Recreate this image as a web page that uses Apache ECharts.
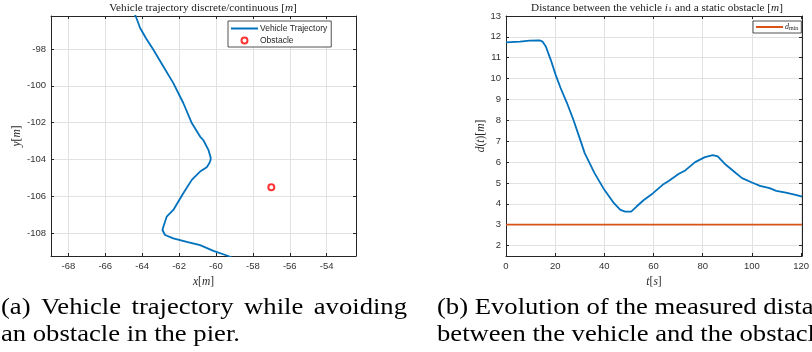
<!DOCTYPE html>
<html>
<head>
<meta charset="utf-8">
<script src="https://cdn.jsdelivr.net/npm/echarts@6/dist/echarts.min.js"></script>
<style>
  html, body { margin: 0; padding: 0; background: #fff; }
  #chart { width: 812px; height: 352px; }
</style>
</head>
<body>
<div id="chart"></div>
<script>
// Vehicle path in the pier, metres
const trajX = [-64.40, -64.28, -64.11, -63.80, -63.39, -62.85, -62.31, -61.77, -61.31, -60.86,
               -60.68, -60.41, -60.28, -60.30, -60.36, -60.50, -60.86, -61.31, -61.77, -62.31,
               -62.67, -62.85, -62.90, -62.76, -62.31, -61.58, -60.86, -60.14, -59.33, -59.10];
const trajY = [-96.10, -96.40, -96.86, -97.40, -98.04, -98.95, -99.85, -100.93, -102.02, -102.75,
               -102.95, -103.47, -103.92, -104.05, -104.20, -104.41, -104.65, -105.10, -105.83, -106.73,
               -107.10, -107.64, -107.82, -108.09, -108.27, -108.46, -108.64, -108.95, -109.23, -109.35];
const obstacleXY = [-57.0, -105.5];

// Measured distance to the obstacle over time
const timeS = [0, 5.7, 9.6, 13.6, 14.9, 16.2, 18.2, 20.2, 22.2, 24.8,
               27.4, 30.1, 32.0, 36.0, 40.0, 43.9, 46.5, 48.5, 50.9, 53.1,
               55.8, 59.8, 63.7, 66.3, 70.3, 72.9, 76.9, 80.9, 84.1, 86.1,
               89.4, 92.7, 96.0, 100.0, 103.3, 107.2, 109.9, 113.8, 117.8, 120.4];
const distM = [11.74, 11.77, 11.82, 11.83, 11.77, 11.54, 10.90, 10.18, 9.55, 8.83,
               8.03, 7.10, 6.43, 5.47, 4.67, 4.03, 3.71, 3.63, 3.63, 3.87,
               4.16, 4.51, 4.91, 5.11, 5.44, 5.60, 6.00, 6.24, 6.33, 6.27,
               5.87, 5.55, 5.23, 5.02, 4.86, 4.75, 4.62, 4.54, 4.43, 4.35];
const dMin = 3;

// Tick labels
const xTicksA = [-68, -66, -64, -62, -60, -58, -56, -54];
const yTicksA = [-108, -106, -104, -102, -100, -98];
const xTicksB = [0, 20, 40, 60, 80, 100, 120];
const yTicksB = [2, 3, 4, 5, 6, 7, 8, 9, 10, 11, 12, 13];

// Text
const titleA = 'Vehicle trajectory discrete/continuous [{i|m}]';
const titleB = 'Distance between the vehicle {i|i}{s|1} and a static obstacle [{i|m}]';
const captionA1 = ['(a)', 'Vehicle', 'trajectory', 'while', 'avoiding'];
const captionA2 = 'an obstacle in the pier.';
const captionB1 = '(b) Evolution of the measured distance';
const captionB2 = 'between the vehicle and the obstacle.';

const SANS = '"Liberation Sans", Arial, sans-serif';
const SERIF = '"Liberation Serif", "Times New Roman", serif';
const AX = '#262626';
const BLUE = '#0072BD';
const ORANGE = '#D95319';

function mathRich(size) {
  return {
    i: { fontFamily: SERIF, fontStyle: 'italic', fontSize: size, color: AX },
    s: { fontFamily: SERIF, fontSize: Math.round(size * 0.7), color: AX, verticalAlign: 'bottom', lineHeight: Math.round(size * 0.7) }
  };
}

function makeAxis(grid, pos, min, max, ticks, labels, name, nameGap) {
  return {
    type: 'value', gridIndex: grid, position: pos, min: min, max: max,
    axisLine: { show: true, onZero: false, lineStyle: { color: AX, width: 1 } },
    axisTick: { show: true, inside: true, length: 3, customValues: ticks, lineStyle: { color: AX, width: 1 } },
    axisLabel: { show: labels, customValues: ticks, color: '#333', fontFamily: SANS, fontSize: 9.5, margin: 5 },
    splitLine: { show: labels, lineStyle: { color: '#e2e2e2', width: 1 } },
    name: name || '', nameLocation: 'middle', nameGap: nameGap || 0,
    nameTextStyle: { fontFamily: SERIF, fontSize: 11.5, color: AX, rich: mathRich(11.5) }
  };
}

// Caption text, slightly widened horizontally
const capFont = '24px "Liberation Serif"';
const capScale = 1.11;
const mctx = document.createElement('canvas').getContext('2d');
mctx.font = capFont;
function captionText(t, x, y) {
  return { type: 'text', x: x, y: y, scaleX: capScale, style: { text: t, fill: '#000', font: capFont, textVerticalAlign: 'top' } };
}
function justified(words, x0, x1, y) {
  const w = words.map(t => mctx.measureText(t).width * capScale);
  const gap = (x1 - x0 - w.reduce((a, b) => a + b, 0)) / (words.length - 1);
  let x = x0;
  return words.map((t, k) => {
    const el = captionText(t, x, y);
    x += w[k] + gap;
    return el;
  });
}
function titleText(t, x) {
  return { type: 'text', x: x, y: 8, scaleX: 1.12,
           style: { text: t, fill: '#1a1a1a', font: '10px ' + SERIF, textAlign: 'center', textVerticalAlign: 'middle', rich: mathRich(10) } };
}

const chart = echarts.init(document.getElementById('chart'), null, { renderer: 'canvas' });

chart.setOption({
  animation: false,
  backgroundColor: '#fff',
  grid: [
    { left: 51, top: 16, width: 305, height: 240 },
    { left: 506, top: 16, width: 303, height: 240 }
  ],
  xAxis: [
    makeAxis(0, 'bottom', -68.94, -52.41, xTicksA, true, '{i|x}[{i|m}]', 19),
    makeAxis(1, 'bottom', 0, 120.4, xTicksB, true, '{i|t}[{i|s}]', 19),
    makeAxis(0, 'top', -68.94, -52.41, xTicksA, false),
    makeAxis(1, 'top', 0, 120.4, xTicksB, false)
  ],
  yAxis: [
    makeAxis(0, 'left', -109.23, -96.21, yTicksA, true, '{i|y}[{i|m}]', 24),
    makeAxis(1, 'left', 1.5, 13, yTicksB, true, '{i|d}({i|t})[{i|m}]', 18),
    makeAxis(0, 'right', -109.23, -96.21, yTicksA, false),
    makeAxis(1, 'right', 1.5, 13, yTicksB, false)
  ],
  legend: [
    {
      data: [{ name: 'Vehicle Trajectory', itemStyle: { opacity: 0 } }, { name: 'Obstacle' }],
      left: 228, top: 21, orient: 'vertical',
      itemWidth: 27, itemHeight: 6, itemGap: 3, padding: [3, 4, 2, 2], selectedMode: false,
      borderColor: AX, borderWidth: 0.8, borderRadius: 0, backgroundColor: '#fff',
      textStyle: { fontFamily: SANS, fontSize: 8.5, color: AX, padding: [0, 0, 0, -3] }
    },
    {
      data: [{ name: 'dmin', itemStyle: { opacity: 0 } }], left: 753, top: 21, orient: 'vertical',
      itemWidth: 27, itemHeight: 6, padding: [2, 3, 2, 2], selectedMode: false,
      borderColor: AX, borderWidth: 0.8, borderRadius: 0, backgroundColor: '#fff',
      formatter: () => '{i|d}{s|min}',
      textStyle: { fontFamily: SERIF, fontSize: 8, color: AX, padding: [0, 0, 0, -3], rich: mathRich(8) }
    }
  ],
  series: [
    {
      name: 'Vehicle Trajectory', type: 'line', xAxisIndex: 0, yAxisIndex: 0,
      data: trajX.map((x, k) => [x, trajY[k]]),
      symbol: 'none', lineStyle: { color: BLUE, width: 1.8 }, itemStyle: { color: BLUE }
    },
    {
      name: 'Obstacle', type: 'scatter', xAxisIndex: 0, yAxisIndex: 0,
      data: [obstacleXY], symbol: 'emptyCircle', symbolSize: 6,
      itemStyle: { color: '#ff0000', borderColor: '#ff0000', borderWidth: 1.6 }
    },
    {
      name: 'd', type: 'line', xAxisIndex: 1, yAxisIndex: 1,
      data: timeS.map((t, k) => [t, distM[k]]),
      symbol: 'none', lineStyle: { color: BLUE, width: 1.8 }, itemStyle: { color: BLUE }
    },
    {
      name: 'dmin', type: 'line', xAxisIndex: 1, yAxisIndex: 1,
      data: [[timeS[0], dMin], [timeS[timeS.length - 1], dMin]],
      symbol: 'none', lineStyle: { color: ORANGE, width: 1.8 }, itemStyle: { color: ORANGE }
    }
  ],
  graphic: [
    titleText(titleA, 203),
    titleText(titleB, 657),
    ...justified(captionA1, 1, 407, 296),
    captionText(captionA2, 1, 323),
    captionText(captionB1, 437, 296),
    captionText(captionB2, 437, 323)
  ]
});
</script>
</body>
</html>
